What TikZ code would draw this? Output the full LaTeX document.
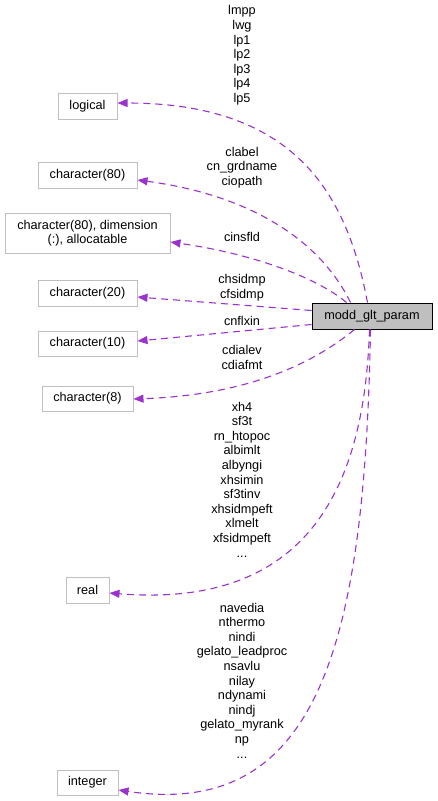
\documentclass[tikz,border=0pt]{standalone}
\usepackage{fontspec}
\setmainfont{Liberation Sans}
\usetikzlibrary{arrows.meta,calc}
\definecolor{edgec}{RGB}{154,50,205}
\definecolor{boxc}{RGB}{191,191,191}
\tikzset{
  typebox/.style={draw=boxc, line width=1pt, fill=white, inner sep=0pt, align=center, font=\fontsize{12.7}{14.5}\selectfont},
  mainbox/.style={draw=black, fill=boxc, line width=1pt, inner sep=0pt, font=\fontsize{12.7}{14.5}\selectfont},
  lbl/.style={align=center, inner sep=0pt, font=\fontsize{12.7}{14.6}\selectfont},
  edge/.style={draw=edgec, line width=1.1pt, dash pattern=on 7pt off 5pt, -{Triangle[length=10pt,width=8pt]}}
}
\begin{document}
\begin{tikzpicture}[x=1pt,y=-1pt]
\useasboundingbox (0,0) rectangle (437,801);
% type nodes
\node[typebox, minimum width=59pt, minimum height=26pt] (logical) at (87.5,106) {logical};
\node[typebox, minimum width=99pt, minimum height=26pt] (char80) at (87.5,175) {character(80)};
\node[typebox, minimum width=165pt, minimum height=40pt] (char80d) at (87.5,233) {character(80), dimension\\(:), allocatable};
\node[typebox, minimum width=99pt, minimum height=26pt] (char20) at (87.5,293) {character(20)};
\node[typebox, minimum width=99pt, minimum height=25pt] (char10) at (87.5,343.5) {character(10)};
\node[typebox, minimum width=91pt, minimum height=25pt] (char8) at (87.5,398.5) {character(8)};
\node[typebox, minimum width=43pt, minimum height=26pt] (real) at (87.5,590) {real};
\node[typebox, minimum width=61pt, minimum height=25pt] (integer) at (87.5,782.5) {integer};
% main node
\node[mainbox, minimum width=120pt, minimum height=26pt] (modd) at (372,316) {modd\_glt\_param};
% edges
\draw[edge] ($(modd.north west)+(56,0)$) .. controls (348,200) and (300,103) .. ($(logical.east)+(0,-3)$);
\draw[edge] ($(modd.north west)+(39,0)$) .. controls (320,240) and (250,195) .. ($(char80.east)+(0,5)$);
\draw[edge] ($(modd.north west)+(35,0)$) .. controls (320,280) and (260,255) .. ($(char80d.east)+(0,9)$);
\draw[edge] ($(modd.north west)+(0,8)$) -- ($(char20.east)+(0,4)$);
\draw[edge] ($(modd.north west)+(0,22)$) -- ($(char10.east)+(0,-2.5)$);
\draw[edge] ($(modd.south west)+(43,0)$) .. controls (315,362) and (250,395) .. ($(char8.east)+(0,0.5)$);
\draw[edge] ($(modd.south west)+(58,0)$) .. controls (365,470) and (320,610) .. ($(real.east)+(0,3)$);
\draw[edge] ($(modd.south west)+(59,0)$) .. controls (365,640) and (320,820) .. ($(integer.east)+(0,7.5)$);
% labels
\node[lbl] (l1) at (242,55.5) {lmpp\\lwg\\lp1\\lp2\\lp3\\lp4\\lp5};
\node[lbl] (l2) at (242,167.5) {clabel\\cn\_grdname\\ciopath};
\node[lbl] (l3) at (242,237) {cinsfld};
\node[lbl] (l4) at (242,287.5) {chsidmp\\cfsidmp};
\node[lbl] (l5) at (242,321) {cnflxin};
\node[lbl] (l6) at (242,357.5) {cdialev\\cdiafmt};
\node[lbl] (l7) at (242,479.5) {xh4\\sf3t\\rn\_htopoc\\albimlt\\albyngi\\xhsimin\\sf3tinv\\xhsidmpeft\\xlmelt\\xfsidmpeft\\...};
\node[lbl] (l8) at (242,680.5) {navedia\\nthermo\\nindi\\gelato\_leadproc\\nsavlu\\nilay\\ndynami\\nindj\\gelato\_myrank\\np\\...};
\end{tikzpicture}
\end{document}
